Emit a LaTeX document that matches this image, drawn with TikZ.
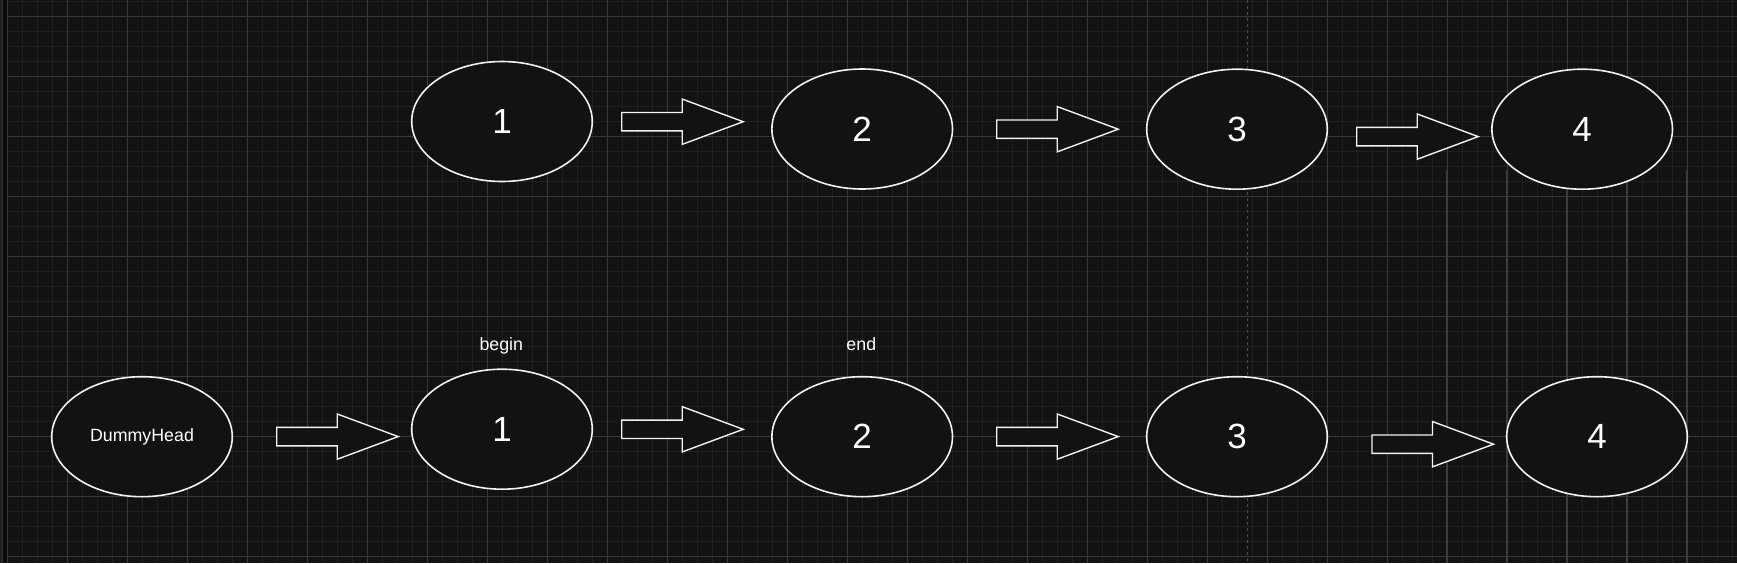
\documentclass[tikz,border=0pt]{standalone}
\usepackage{fontspec}
\setmainfont{Liberation Sans}
\usetikzlibrary{shapes.geometric}
\definecolor{bg}{HTML}{121212}
\definecolor{minorc}{HTML}{1F1F1F}
\definecolor{majorc}{HTML}{383838}
\definecolor{brightc}{HTML}{3C3C3C}
\definecolor{dashc}{HTML}{4A4A4A}
\definecolor{strokec}{HTML}{F2F2F2}
\definecolor{stripa}{HTML}{1C1C1C}
\definecolor{stripb}{HTML}{0B0B0B}
\definecolor{stripc}{HTML}{2C2C2C}
\begin{document}
\begin{tikzpicture}[x=0.5pt,y=-0.5pt,
  ell/.style={ellipse, draw=strokec, line width=0.8pt, fill=bg,
    minimum width=90.3pt, minimum height=60pt, inner sep=0pt,
    text=white, font=\fontsize{17.5}{20}\selectfont},
  smalltext/.style={text=white, font=\fontsize{8.9}{10}\selectfont},
  minorline/.style={draw=minorc, line width=0.5pt},
  majorline/.style={draw=majorc, line width=0.5pt},
  brightline/.style={draw=brightc, line width=0.9pt},
  dashline/.style={draw=dashc, line width=0.5pt, dash pattern=on 1.5pt off 1.5pt},
  barrow/.pic={\draw[strokec, line width=0.7pt, fill=bg, line join=miter]
     (0,-9.2) -- (60.5,-9.2) -- (60.5,-22.65) -- (121.5,0) -- (60.5,22.65)
     -- (60.5,9.2) -- (0,9.2) -- cycle;}
]
\useasboundingbox (0,0) rectangle (1737,563);
\fill[bg] (0,0) rectangle (1737,563);
% left strip
\fill[stripb] (0,0) rectangle (7,563);
\fill[stripa] (0,0) rectangle (1.4,563);
\draw[stripc, line width=0.8pt] (2.2,0) -- (2.2,563);
% grid
\foreach \k in {0,...,115} \draw[minorline] ({7.3+15*\k},0) -- ({7.3+15*\k},563);
\foreach \k in {0,...,37} \draw[minorline] (7.3,{1+15*\k}) -- (1737,{1+15*\k});
\foreach \k in {0,...,28} \draw[majorline] ({7.3+60*\k},0) -- ({7.3+60*\k},563);
\foreach \k in {0,...,9} \draw[majorline] (7.3,{16+60*\k}) -- (1737,{16+60*\k});
\foreach \x in {1447.3,1507.3,1567.3,1627.3,1687.3} \draw[brightline] (\x,170) -- (\x,563);
\draw[dashline] (1247.6,0) -- (1247.6,563);
% top row
\node[ell] (t1) at (502,121.5) {1};
\node[ell] (t2) at (862.2,129) {2};
\node[ell] (t3) at (1237,129.2) {3};
\node[ell] (t4) at (1582.2,129.2) {4};
\pic (a1) at (621.7,121.7) {barrow};
\pic (a2) at (996.7,129.2) {barrow};
\pic (a3) at (1356.7,136.6) {barrow};
% bottom row
\node[ell, font=\fontsize{8.9}{10}\selectfont] (dh) at (142,436.7) {DummyHead};
\node[ell] (b1) at (502,429.2) {1};
\node[ell] (b2) at (862.2,436.7) {2};
\node[ell] (b3) at (1237,436.7) {3};
\node[ell] (b4) at (1597,436.7) {4};
\pic (c0) at (276.7,436.6) {barrow};
\pic (c1) at (621.7,429.3) {barrow};
\pic (c2) at (996.7,436.6) {barrow};
\pic (c3) at (1372,444.2) {barrow};
% labels
\node[smalltext, anchor=base] (lbegin) at (501.3,350) {begin};
\node[smalltext, anchor=base] (lend) at (861.3,350) {end};
\end{tikzpicture}
\end{document}
